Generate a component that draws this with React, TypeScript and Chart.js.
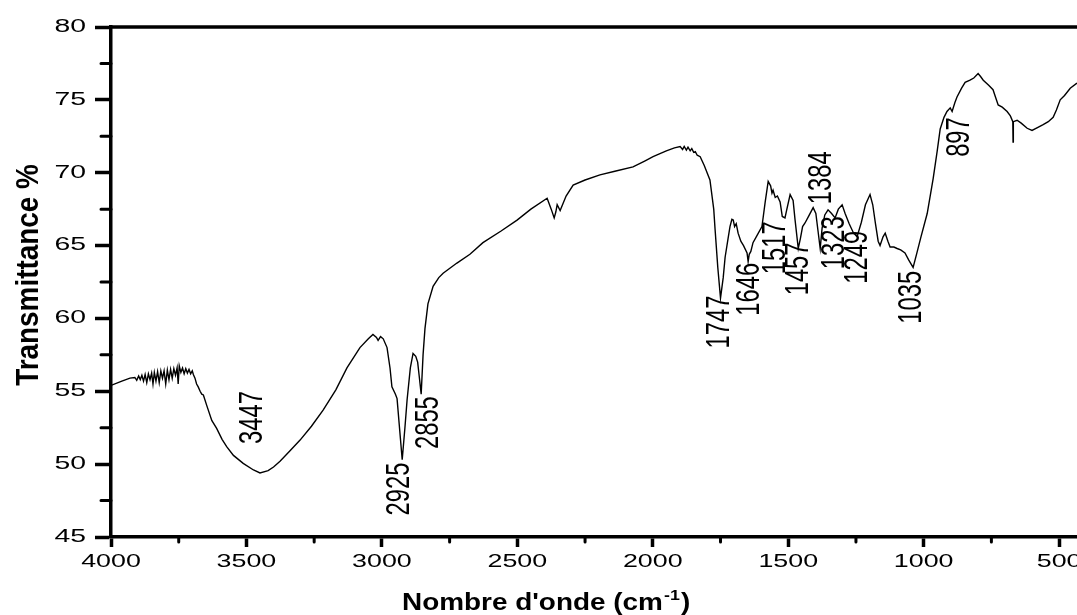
import { useEffect, useRef } from 'react';
import { Chart, registerables } from 'chart.js';

Chart.register(...registerables);

// ---- data ----
const xTickValues = [4000, 3500, 3000, 2500, 2000, 1500, 1000, 500];
const xTickLabels = ['4000', '3500', '3000', '2500', '2000', '1500', '1000', '500'];
const yTickValues = [45, 50, 55, 60, 65, 70, 75, 80];
const yTickLabels = ['45', '50', '55', '60', '65', '70', '75', '80'];
const xMinorTicks = [3750, 3250, 2750, 2250, 1750, 1250, 750];
const yMinorTicks = [47.5, 52.5, 57.5, 62.5, 67.5, 72.5, 77.5];

// spectrum: [wavenumber cm-1, transmittance %]
const spectrumPoints: [number, number][] = [
  [4000, 55.4], [3960, 55.7], [3930, 55.9], [3912, 55.95], [3905, 55.75], [3898, 56.05], [3892, 55.8], [3886, 56.1],
  [3880, 55.7], [3874, 56.15], [3868, 55.6], [3862, 56.2], [3856, 55.8], [3850, 56.25], [3845, 55.5], [3840, 56.3],
  [3834, 55.7], [3828, 56.35], [3822, 55.6], [3816, 56.4], [3810, 55.9], [3804, 56.4], [3798, 55.5], [3792, 56.45],
  [3786, 55.8], [3780, 56.5], [3774, 55.9], [3768, 56.55], [3762, 56.1], [3756, 56.6], [3752, 55.5], [3748, 56.75],
  [3742, 56.3], [3736, 56.6], [3730, 56.2], [3724, 56.55], [3718, 56.25], [3712, 56.5], [3706, 56.2], [3700, 56.4],
  [3696, 56.15], [3690, 55.9], [3684, 55.5], [3678, 55.3], [3671, 55.0], [3665, 54.8], [3659, 54.75], [3647, 54.05],
  [3628, 53.0], [3610, 52.45], [3590, 51.7], [3573, 51.2], [3548, 50.6], [3512, 50.05], [3474, 49.6], [3450, 49.4],
  [3420, 49.55], [3400, 49.8], [3376, 50.2], [3340, 50.9], [3302, 51.65], [3260, 52.6], [3217, 53.7], [3170, 55.1],
  [3129, 56.6], [3081, 58.0], [3050, 58.6], [3033, 58.9], [3020, 58.7], [3014, 58.5], [3005, 58.75], [2995, 58.6],
  [2981, 58.0], [2970, 56.6], [2963, 55.3], [2950, 54.8], [2944, 54.5], [2935, 52.5], [2925, 50.3], [2915, 52.5],
  [2907, 54.4], [2895, 56.6], [2885, 57.6], [2875, 57.4], [2868, 57.0], [2862, 56.0], [2855, 54.8], [2848, 57.5],
  [2841, 59.3], [2830, 61.0], [2811, 62.2], [2790, 62.8], [2774, 63.1], [2723, 63.8], [2675, 64.4], [2627, 65.2],
  [2560, 66.0], [2501, 66.75], [2450, 67.5], [2390, 68.25], [2375, 67.5], [2364, 66.9], [2358, 67.3], [2353, 67.8],
  [2342, 67.4], [2320, 68.4], [2294, 69.15], [2250, 69.5], [2195, 69.85], [2140, 70.1], [2073, 70.4], [2030, 70.8],
  [1999, 71.1], [1950, 71.5], [1920, 71.7], [1899, 71.8], [1890, 71.6], [1884, 71.8], [1876, 71.55], [1870, 71.75],
  [1862, 71.5], [1856, 71.65], [1849, 71.4], [1843, 71.45], [1836, 71.2], [1825, 71.1], [1810, 70.5], [1789, 69.5],
  [1775, 67.5], [1770, 66.1], [1760, 63.5], [1750, 61.4], [1740, 62.8], [1733, 64.2], [1722, 65.5], [1715, 66.3],
  [1708, 66.8], [1703, 66.75], [1698, 66.3], [1692, 66.5], [1685, 65.85], [1675, 65.3], [1665, 65.0], [1652, 64.5],
  [1648, 63.9], [1644, 64.4], [1638, 64.6], [1630, 65.2], [1615, 65.7], [1597, 66.3], [1585, 68.0], [1574, 69.4],
  [1565, 69.1], [1560, 68.6], [1556, 68.8], [1548, 68.3], [1540, 68.4], [1530, 68.0], [1522, 67.0], [1512, 66.9],
  [1505, 67.5], [1493, 68.5], [1482, 68.1], [1475, 66.8], [1463, 64.8], [1455, 65.5], [1447, 66.3], [1438, 66.55],
  [1425, 67.0], [1408, 67.6], [1398, 67.2], [1390, 66.0], [1382, 64.8], [1375, 66.2], [1365, 67.1], [1353, 67.45],
  [1340, 67.2], [1327, 66.9], [1315, 67.5], [1301, 67.8], [1290, 67.2], [1275, 66.5], [1260, 65.9], [1246, 65.6],
  [1230, 66.6], [1215, 67.8], [1198, 68.5], [1188, 67.8], [1178, 66.5], [1168, 65.3], [1161, 65.0], [1150, 65.6],
  [1142, 65.85], [1132, 65.3], [1124, 64.9], [1110, 64.9], [1098, 64.8], [1085, 64.7], [1069, 64.5], [1055, 64.0],
  [1039, 63.5], [1025, 64.5], [1010, 65.6], [987, 67.2], [965, 69.6], [950, 71.5], [939, 73.0], [925, 73.8],
  [914, 74.2], [902, 74.45], [895, 74.2], [885, 74.8], [877, 75.2], [860, 75.8], [847, 76.2], [829, 76.35],
  [815, 76.5], [799, 76.8], [790, 76.6], [780, 76.35], [760, 76.0], [744, 75.7], [735, 75.2], [725, 74.65],
  [710, 74.5], [692, 74.2], [680, 73.9], [671, 73.5], [670, 72.1], [669, 73.5], [655, 73.6], [640, 73.4],
  [618, 73.05], [600, 72.9], [580, 73.1], [559, 73.3], [540, 73.5], [522, 73.8], [510, 74.3], [496, 75.0],
  [480, 75.3], [459, 75.8], [434, 76.15],
];

// peak annotations (text, anchor wavenumber, anchor transmittance)
const peakLabels = ['3447', '2925', '2855', '1747', '1646', '1517', '1457', '1384', '1323', '1249', '1035', '897'];
const peakLabelWn = [3478, 2935, 2828, 1755, 1641, 1545, 1463, 1375, 1327, 1244, 1043, 869];
const peakLabelT = [53.2, 48.3, 52.85, 59.75, 62.0, 64.85, 63.4, 69.65, 65.2, 64.2, 61.45, 72.45];

const X_MIN = 434;
const X_MAX = 4000;
const FONT = '"Liberation Sans", Arial, sans-serif';

function drawText(
  ctx: CanvasRenderingContext2D,
  text: string,
  x: number,
  y: number,
  o: { size: number; bold?: boolean; rot?: number; sAlong?: number; sPerp?: number; align?: CanvasTextAlign; baseline?: CanvasTextBaseline }
) {
  ctx.save();
  ctx.translate(x, y);
  if (o.rot) ctx.rotate(o.rot);
  ctx.scale(o.sAlong ?? 1, o.sPerp ?? 1);
  ctx.font = `${o.bold ? 'bold ' : ''}${o.size}px ${FONT}`;
  ctx.textAlign = o.align ?? 'center';
  ctx.textBaseline = o.baseline ?? 'middle';
  ctx.fillStyle = '#000';
  ctx.fillText(text, 0, 0);
  ctx.restore();
}

const decorPlugin = {
  id: 'decor',
  afterDraw(chart: any) {
    const { ctx, chartArea, scales } = chart;
    const xs = scales.x;
    const ys = scales.y;
    ctx.save();
    ctx.strokeStyle = '#000';
    // top frame line
    ctx.lineWidth = 3.5;
    ctx.beginPath();
    ctx.moveTo(chartArea.left - 1.75, chartArea.top);
    ctx.lineTo(chartArea.right, chartArea.top);
    ctx.stroke();
    // minor ticks
    ctx.lineWidth = 3;
    ctx.lineCap = 'round';
    ctx.beginPath();
    for (const v of yMinorTicks) {
      const y = ys.getPixelForValue(v);
      ctx.moveTo(chartArea.left - 10, y);
      ctx.lineTo(chartArea.left, y);
    }
    for (const v of xMinorTicks) {
      const x = xs.getPixelForValue(v);
      ctx.moveTo(x, chartArea.bottom);
      ctx.lineTo(x, chartArea.bottom + 5);
    }
    ctx.stroke();
    ctx.restore();

    // tick labels
    yTickValues.forEach((v, i) => {
      drawText(ctx, yTickLabels[i], chartArea.left - 25, ys.getPixelForValue(v), {
        size: 17.5, sAlong: 1.62, align: 'right', baseline: 'middle',
      });
    });
    xTickValues.forEach((v, i) => {
      drawText(ctx, xTickLabels[i], xs.getPixelForValue(v), chartArea.bottom + 25, {
        size: 18.5, sAlong: 1.45, align: 'center', baseline: 'middle',
      });
    });

    // peak labels
    peakLabels.forEach((t, i) => {
      drawText(ctx, t, xs.getPixelForValue(peakLabelWn[i]), ys.getPixelForValue(peakLabelT[i]), {
        size: 34, rot: -Math.PI / 2, sAlong: 0.7, align: 'center', baseline: 'middle',
      });
    });

    // y title
    drawText(ctx, 'Transmittance %', 38, 275, {
      size: 31, bold: true, rot: -Math.PI / 2, sAlong: 0.9, align: 'center', baseline: 'alphabetic',
    });

    // x title with superscript
    ctx.save();
    const p1 = "Nombre d'onde (cm";
    const p2 = '-1';
    const p3 = ')';
    const mainFont = `bold 23.5px ${FONT}`;
    const supFont = `bold 15px ${FONT}`;
    ctx.font = mainFont;
    const w1 = ctx.measureText(p1).width;
    const w3 = ctx.measureText(p3).width;
    ctx.font = supFont;
    const w2 = ctx.measureText(p2).width;
    const total = w1 + w2 + w3;
    const target = 286;
    const sx = target / total;
    ctx.translate(545 - target / 2, 610);
    ctx.scale(sx, 1);
    ctx.fillStyle = '#000';
    ctx.textAlign = 'left';
    ctx.textBaseline = 'alphabetic';
    ctx.font = mainFont;
    ctx.fillText(p1, 0, 0);
    ctx.font = supFont;
    ctx.fillText(p2, w1 + 1, -10);
    ctx.font = mainFont;
    ctx.fillText(p3, w1 + w2 + 2, 0);
    ctx.restore();
  },
};

export default function App() {
  const ref = useRef<HTMLCanvasElement | null>(null);
  useEffect(() => {
    if (!ref.current) return;
    const chart = new Chart(ref.current, {
      type: 'line',
      data: {
        datasets: [
          {
            data: spectrumPoints.map(([x, y]) => ({ x, y })),
            borderColor: '#000',
            borderWidth: 1.4,
            pointRadius: 0,
            tension: 0,
            fill: false,
          },
        ],
      },
      options: {
        animation: false,
        responsive: true,
        maintainAspectRatio: false,
        layout: { padding: { top: 27, right: 0, left: 0, bottom: 0 } },
        plugins: { legend: { display: false }, tooltip: { enabled: false } },
        scales: {
          x: {
            type: 'linear',
            reverse: true,
            min: X_MIN,
            max: X_MAX,
            afterFit: (s: any) => { s.height = 78; },
            afterBuildTicks: (s: any) => { s.ticks = xTickValues.map((v) => ({ value: v })); },
            ticks: { display: false, includeBounds: false },
            grid: { drawOnChartArea: false, drawTicks: true, tickLength: 10, tickWidth: 3.5, tickColor: '#000' },
            border: { display: true, width: 3.5, color: '#000' },
          },
          y: {
            type: 'linear',
            min: 45,
            max: 80,
            afterFit: (s: any) => { s.width = 111; },
            afterBuildTicks: (s: any) => { s.ticks = yTickValues.map((v) => ({ value: v })); },
            ticks: { display: false, includeBounds: false },
            grid: { drawOnChartArea: false, drawTicks: true, tickLength: 16, tickWidth: 3.5, tickColor: '#000' },
            border: { display: true, width: 3.5, color: '#000' },
          },
        },
      },
      plugins: [decorPlugin],
    });
    return () => chart.destroy();
  }, []);
  return (
    <div style={{ position: 'fixed', left: 0, top: 0, width: 1077, height: 615, background: '#fff' }}>
      <canvas ref={ref} />
    </div>
  );
}
